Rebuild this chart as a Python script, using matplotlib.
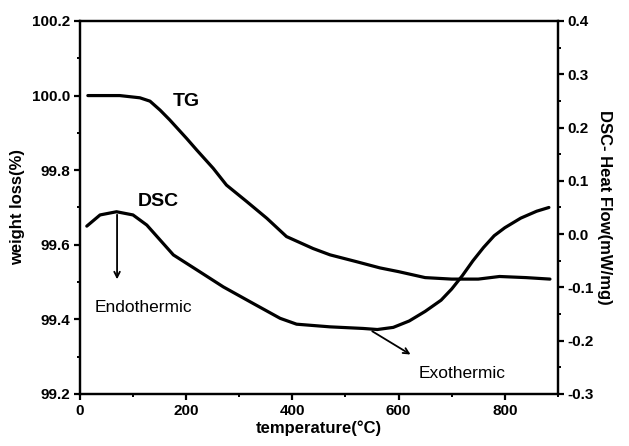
"""TG / DSC curves on twin y axes."""
import matplotlib.pyplot as plt
from matplotlib.ticker import MultipleLocator

plt.rcParams['font.family'] = ['Liberation Sans', 'DejaVu Sans']

# TG curve: temperature (°C) vs weight (%)
tg_temp = [15, 75, 113, 132, 151, 169, 201, 220, 251, 276, 314, 352, 389,
           439, 471, 520, 565, 600, 650, 700, 750, 790, 840, 885]
tg_weight = [100.0, 100.0, 99.994, 99.985, 99.961, 99.935, 99.885, 99.854,
             99.805, 99.760, 99.716, 99.671, 99.622, 99.59, 99.573, 99.555,
             99.538, 99.528, 99.512, 99.508, 99.508, 99.515, 99.512, 99.508]

# DSC curve: temperature (°C) vs heat flow (mW/mg)
dsc_temp = [13, 38, 69, 100, 126, 151, 176, 220, 270, 326, 377, 408, 471,
            533, 560, 590, 620, 650, 680, 700, 720, 740, 760, 780, 800, 830,
            860, 883]
dsc_flow = [0.015, 0.036, 0.042, 0.036, 0.017, -0.011, -0.039, -0.067, -0.099,
            -0.130, -0.158, -0.169, -0.174, -0.177, -0.179, -0.175, -0.163,
            -0.145, -0.124, -0.103, -0.078, -0.050, -0.025, -0.003, 0.012,
            0.030, 0.043, 0.050]

fig = plt.figure(figsize=(6.29, 4.46), dpi=100)
ax = fig.add_axes([0.127, 0.1166, 0.76, 0.8364])
ax2 = ax.twinx()

lw = 2.3
ax.plot(tg_temp, tg_weight, color='black', linewidth=lw,
        solid_capstyle='round', solid_joinstyle='round')
ax2.plot(dsc_temp, dsc_flow, color='black', linewidth=lw,
         solid_capstyle='round', solid_joinstyle='round')

ax.set_xlim(0, 900)
ax.set_ylim(99.2, 100.2)
ax2.set_ylim(-0.3, 0.4)

ax.xaxis.set_major_locator(MultipleLocator(200))
ax.xaxis.set_minor_locator(MultipleLocator(100))
ax.yaxis.set_major_locator(MultipleLocator(0.2))
ax.yaxis.set_minor_locator(MultipleLocator(0.1))
ax2.yaxis.set_major_locator(MultipleLocator(0.1))
ax2.yaxis.set_minor_locator(MultipleLocator(0.05))
ax.yaxis.set_major_formatter(plt.FormatStrFormatter('%.1f'))
ax2.yaxis.set_major_formatter(plt.FormatStrFormatter('%.1f'))

for a in (ax, ax2):
    for sp in a.spines.values():
        sp.set_linewidth(1.6)
    a.tick_params(which='major', direction='out', length=4, width=1.6,
                  labelsize=11, pad=3)
    a.tick_params(which='minor', direction='out', length=2.5, width=1.4)
    for lab in a.get_xticklabels() + a.get_yticklabels():
        lab.set_fontweight('bold')

ax.set_xlabel('temperature(°C)', fontsize=12, fontweight='bold', labelpad=2)
ax.set_ylabel('weight loss(%)', fontsize=12, fontweight='bold', labelpad=5)
ax2.set_ylabel('DSC- Heat Flow(mW/mg)', fontsize=12, fontweight='bold',
               rotation=-90, labelpad=13)

# curve labels
ax.text(200, 99.985, 'TG', fontsize=14, fontweight='bold', ha='center', va='center')
ax.text(147, 99.717, 'DSC', fontsize=14, fontweight='bold', ha='center', va='center')

# endothermic / exothermic arrows
ax.annotate('', xy=(70, 99.50), xytext=(70, 99.688),
            arrowprops=dict(arrowstyle='->', color='black', lw=1.3))
ax.text(119, 99.431, 'Endothermic', fontsize=12.5, ha='center', va='center')
ax.annotate('', xy=(627, 99.302), xytext=(546, 99.372),
            arrowprops=dict(arrowstyle='->', color='black', lw=1.3))
ax.text(719, 99.256, 'Exothermic', fontsize=12.5, ha='center', va='center')

fig.savefig('out.png', dpi=100, facecolor='white')
